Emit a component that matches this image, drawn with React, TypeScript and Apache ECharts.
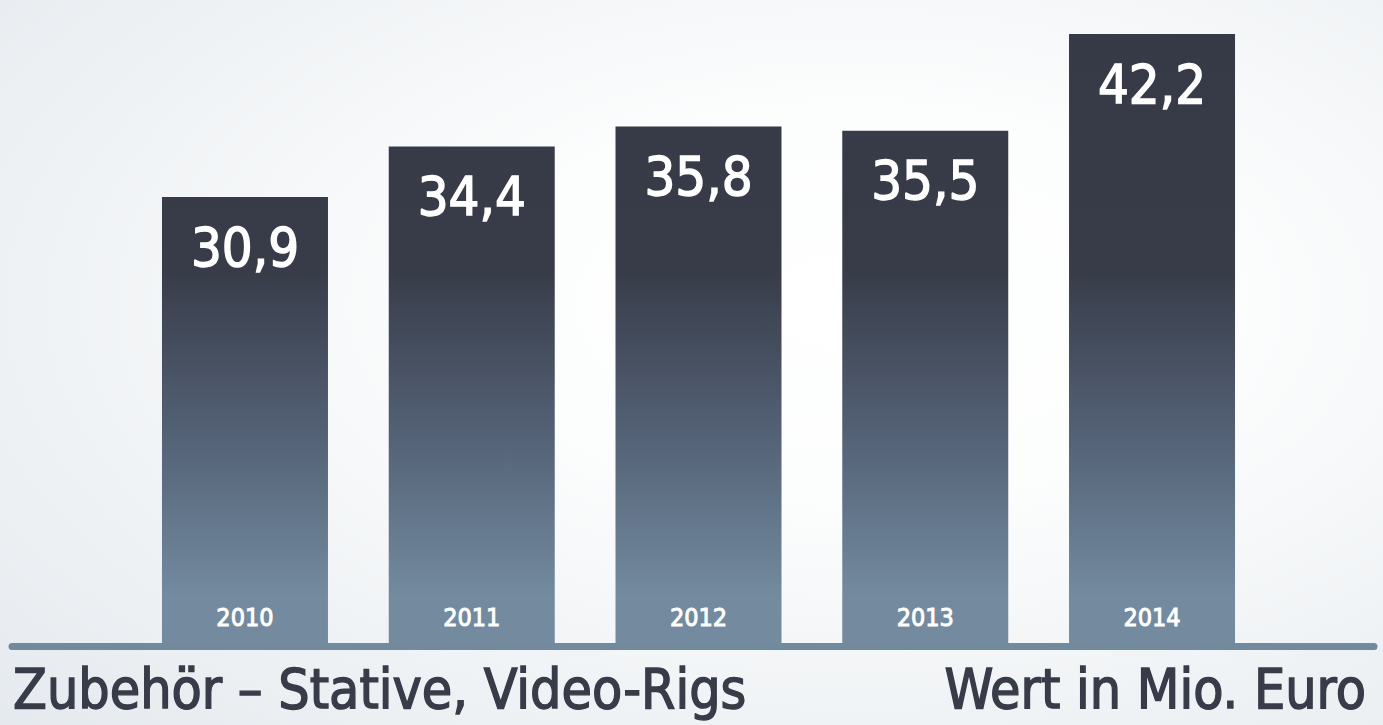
import React, { useEffect, useRef } from "react";
import * as echarts from "echarts";

const years = ["2010", "2011", "2012", "2013", "2014"];
const values = [30.9, 34.4, 35.8, 35.5, 42.2];
const leftTitle = "Zubehör – Stative, Video-Rigs";
const rightTitle = "Wert in Mio. Euro";

const FONT = "'DejaVu Sans Condensed', 'DejaVu Sans', sans-serif";

export default function App() {
  const ref = useRef<HTMLDivElement>(null);
  useEffect(() => {
    document.body.style.margin = "0";
    const chart = echarts.init(ref.current!, null, { renderer: "svg" });
    const barGrad = new echarts.graphic.LinearGradient(
      0, 0, 0, 643,
      [
        { offset: 0, color: "#363a47" },
        { offset: 0.42, color: "#383c49" },
        { offset: 0.7, color: "#56657a" },
        { offset: 0.93, color: "#748b9f" },
        { offset: 1, color: "#748b9f" },
      ],
      true
    );
    chart.setOption({
      animation: false,
      backgroundColor: new echarts.graphic.RadialGradient(0.62, 0.42, 0.9, [
        { offset: 0, color: "#ffffff" },
        { offset: 0.3, color: "#fcfdfd" },
        { offset: 1, color: "#e3e8ed" },
      ]),
      grid: { left: 131.6, right: 117.6, top: 0, bottom: 82 },
      xAxis: {
        type: "category",
        data: years,
        z: 10,
        axisLine: { show: false },
        axisTick: { show: false },
        axisLabel: {
          inside: true,
          margin: 13,
          color: "#ffffff",
          fontFamily: FONT,
          fontSize: 25,
          textBorderColor: "#ffffff",
          textBorderWidth: 0.9,
        },
      },
      yAxis: { type: "value", min: 0, max: 44.56, show: false, splitLine: { show: false } },
      series: [
        {
          type: "bar",
          data: values,
          barWidth: 166,
          itemStyle: { color: barGrad },
          label: {
            show: true,
            position: "insideTop",
            distance: 23,
            color: "#ffffff",
            fontFamily: FONT,
            fontSize: 54,
            textBorderColor: "#ffffff",
            textBorderWidth: 1.4,
            formatter: (p: any) => String(p.value).replace(".", ","),
          },
        },
      ],
      graphic: [
        {
          type: "line",
          shape: { x1: 12, y1: 646.5, x2: 1374, y2: 646.5 },
          style: { stroke: "#728a9d", lineWidth: 7, lineCap: "round" },
          z: 5,
        },
        {
          type: "text",
          x: 13,
          y: 689,
          style: {
            text: leftTitle,
            fill: "#383c48",
            stroke: "#383c48",
            lineWidth: 1.4,
            font: `55px ${FONT}`,
            align: "left",
            verticalAlign: "middle",
          },
        },
        {
          type: "text",
          x: 1366,
          y: 689,
          style: {
            text: rightTitle,
            fill: "#383c48",
            stroke: "#383c48",
            lineWidth: 1.4,
            font: `55px ${FONT}`,
            align: "right",
            verticalAlign: "middle",
          },
        },
      ],
    });
    return () => chart.dispose();
  }, []);
  return <div ref={ref} style={{ position: "absolute", left: 0, top: 0, width: 1383, height: 725 }} />;
}
